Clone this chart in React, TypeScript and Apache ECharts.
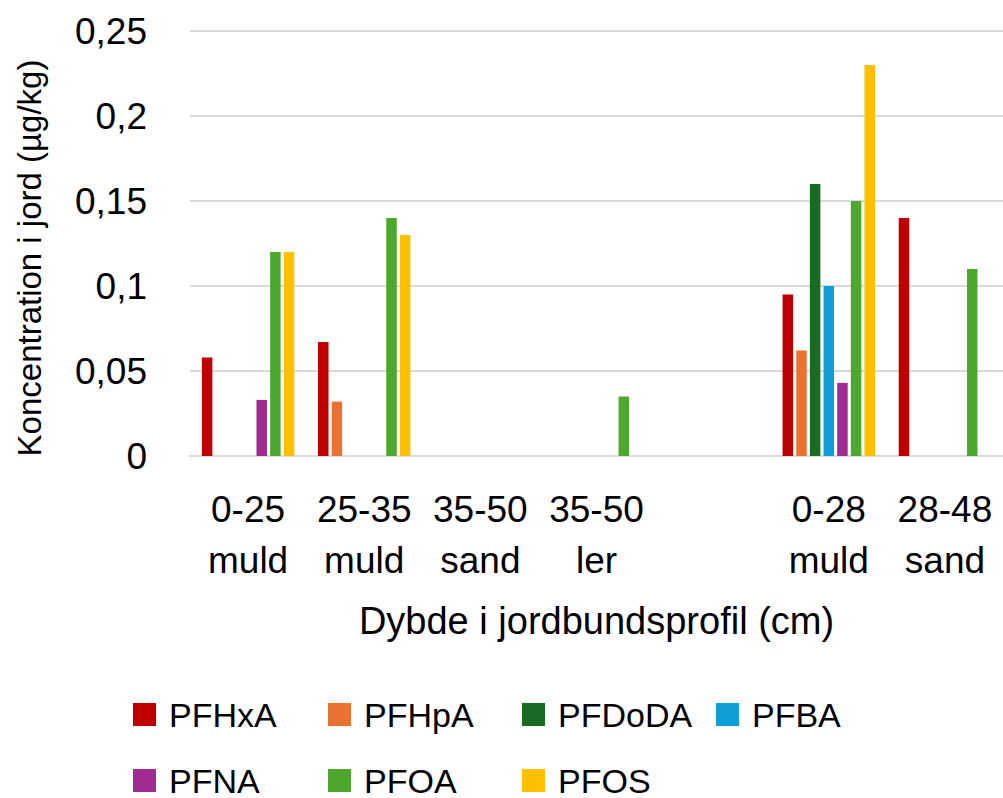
import React, { useEffect, useRef } from "react";
import * as echarts from "echarts";

// Soil depth / soil type per sample (blank slot separates the two profiles)
const categories = ["0-25\nmuld", "25-35\nmuld", "35-50\nsand", "35-50\nler", "", "0-28\nmuld", "28-48\nsand"];

// Concentrations in soil (µg/kg); null = not detected
const pfhxa = [0.058, 0.067, null, null, null, 0.095, 0.14];
const pfhpa = [null, 0.032, null, null, null, 0.062, null];
const pfdoda = [null, null, null, null, null, 0.16, null];
const pfba = [null, null, null, null, null, 0.1, null];
const pfna = [0.033, null, null, null, null, 0.043, null];
const pfoa = [0.12, 0.14, null, 0.035, null, 0.15, 0.11];
const pfos = [0.12, 0.13, null, null, null, 0.23, null];

const seriesNames = ["PFHxA", "PFHpA", "PFDoDA", "PFBA", "PFNA", "PFOA", "PFOS"];
const seriesData = [pfhxa, pfhpa, pfdoda, pfba, pfna, pfoa, pfos];
const seriesColors = ["#C00000", "#E97132", "#196B24", "#0F9ED5", "#A02B93", "#4EA72E", "#FFC000"];

// Y axis ticks
const yMin = 0;
const yMax = 0.25;
const yStep = 0.05;

const FONT = "'Liberation Sans', Arial, sans-serif";

// Legend grid: column x positions and row centres
const legendCols = [133, 328, 522, 716];
const legendRows = [714.5, 780.5];
const legendLayout: [string, number, number][] = [
  ["PFHxA", 0, 0],
  ["PFHpA", 1, 0],
  ["PFDoDA", 2, 0],
  ["PFBA", 3, 0],
  ["PFNA", 0, 1],
  ["PFOA", 1, 1],
  ["PFOS", 2, 1],
];

export default function App() {
  const ref = useRef<HTMLDivElement>(null);

  useEffect(() => {
    if (!ref.current) return;
    const chart = echarts.init(ref.current, undefined, { renderer: "svg" });

    const legendLineHeight = 34;
    const legends = legendLayout.map(([name, c, r]) => ({
      show: true,
      data: [name],
      left: legendCols[c],
      top: legendRows[r] - legendLineHeight / 2,
      padding: 0,
      itemWidth: 23,
      itemHeight: 23,
      icon: "rect",
      selectedMode: false,
      textStyle: {
        fontFamily: FONT,
        fontSize: 34,
        color: "#000",
        lineHeight: legendLineHeight,
        padding: [0, 0, 0, 8],
      },
    }));

    chart.setOption({
      animation: false,
      backgroundColor: "#fff",
      grid: { left: 190, right: 0, top: 31, bottom: 342, containLabel: false },
      legend: legends,
      xAxis: {
        type: "category",
        data: categories,
        axisTick: { show: false },
        axisLine: { show: true, lineStyle: { color: "#d9d9d9", width: 2 } },
        axisLabel: {
          interval: 0,
          fontFamily: FONT,
          fontSize: 37,
          lineHeight: 51,
          color: "#000",
          margin: 28,
        },
        name: "Dybde i jordbundsprofil (cm)",
        nameLocation: "middle",
        nameGap: 146,
        nameTextStyle: { fontFamily: FONT, fontSize: 38, color: "#000" },
      },
      yAxis: {
        type: "value",
        min: yMin,
        max: yMax,
        interval: yStep,
        axisLine: { show: false },
        axisTick: { show: false },
        splitLine: { show: true, lineStyle: { color: "#d9d9d9", width: 2 } },
        axisLabel: {
          fontFamily: FONT,
          fontSize: 37,
          color: "#000",
          margin: 43,
          formatter: (v: number) => String(Number(v.toFixed(2))).replace(".", ","),
        },
      },
      graphic: [
        {
          type: "text",
          x: 29,
          y: 258,
          rotation: Math.PI / 2,
          style: {
            text: "Koncentration i jord (µg/kg)",
            fontFamily: FONT,
            fontSize: 33,
            fill: "#000",
            align: "center",
            verticalAlign: "middle",
          },
        },
      ],
      series: seriesNames.map((name, i) => ({
        name,
        type: "bar",
        data: seriesData[i],
        barWidth: 10.5,
        barGap: "30%",
        itemStyle: { color: seriesColors[i] },
      })),
    });

    return () => chart.dispose();
  }, []);

  return (
    <div
      ref={ref}
      style={{ position: "absolute", left: 0, top: 0, width: 1003, height: 798 }}
    />
  );
}
